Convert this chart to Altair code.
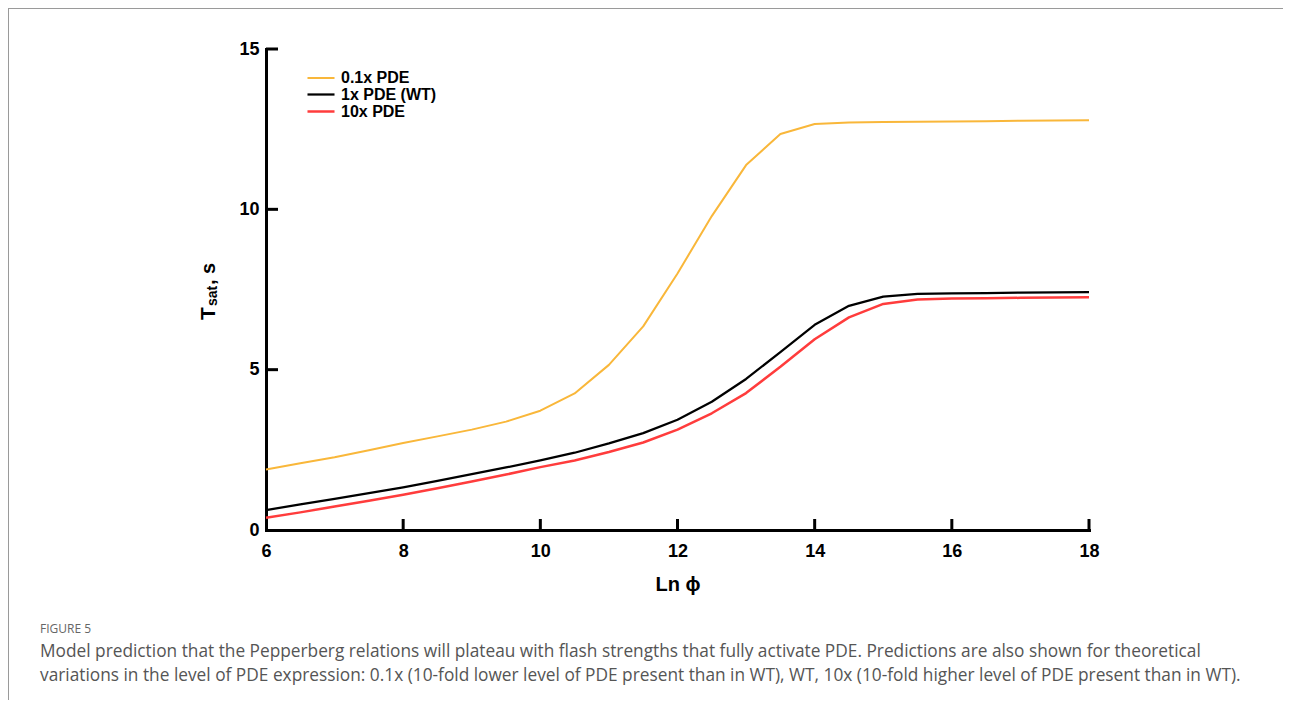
import altair as alt
import pandas as pd

# ---------------- data ----------------
x_vals = [6, 6.5, 7, 7.5, 8, 8.5, 9, 9.5, 10, 10.5, 11, 11.5, 12, 12.5, 13,
          13.5, 14, 14.5, 15, 15.5, 16, 16.5, 17, 17.5, 18]
pde_01x = [1.89, 2.08, 2.27, 2.49, 2.71, 2.92, 3.13, 3.38, 3.72, 4.26, 5.15, 6.35,
           8.00, 9.79, 11.38, 12.35, 12.66, 12.71, 12.72, 12.73, 12.74, 12.75,
           12.76, 12.77, 12.78]
pde_1x = [0.62, 0.80, 0.97, 1.15, 1.33, 1.53, 1.74, 1.95, 2.17, 2.41, 2.70, 3.02,
          3.44, 4.00, 4.71, 5.55, 6.40, 6.99, 7.28, 7.36, 7.38, 7.39, 7.40, 7.41, 7.42]
pde_10x = [0.38, 0.55, 0.73, 0.91, 1.10, 1.30, 1.51, 1.73, 1.96, 2.17, 2.43, 2.73,
           3.13, 3.64, 4.27, 5.09, 5.95, 6.63, 7.05, 7.19, 7.22, 7.23, 7.24, 7.25, 7.26]
series_names = ["0.1x PDE", "1x PDE (WT)", "10x PDE"]
series_colors = ["#F9B73A", "#000000", "#FF3C3C"]
series_widths = [2, 2.5, 4]
x_tick_values = [6, 8, 10, 12, 14, 16, 18]
x_inner_ticks = [8, 10, 12, 14, 16, 18]
y_tick_values = [0, 5, 10, 15]
y_inner_ticks = [5, 10, 15]
x_title = "Ln ϕ"
y_title_parts = ["T", "sat", ", s"]
caption_head = "FIGURE 5"
caption_lines = [
    "Model prediction that the Pepperberg relations will plateau with flash strengths that fully activate PDE. Predictions are also shown for theoretical",
    "variations in the level of PDE expression: 0.1x (10-fold lower level of PDE present than in WT), WT, 10x (10-fold higher level of PDE present than in WT).",
]

rows = []
for name, vals in zip(series_names, [pde_01x, pde_1x, pde_10x]):
    for x, y in zip(x_vals, vals):
        rows.append({"lnphi": x, "tsat": y, "series": name})
df = pd.DataFrame(rows)

FONT = "Liberation Sans, Arial, sans-serif"
CAP_FONT = "Open Sans, Lato, sans-serif"
W, H = 823, 481
PAD_L, PAD_T = 258, 41
TOTAL_W, TOTAL_H = 1275, 692

xs = alt.Scale(domain=[6, 18], nice=False, zero=False)
ys = alt.Scale(domain=[0, 15], nice=False)
x_axis = alt.Axis(values=x_tick_values, title=x_title, ticks=False, grid=False,
                  labelFlush=False, labelPadding=12, titlePadding=14, format="d")
y_axis = alt.Axis(values=y_tick_values, title=None, ticks=False, grid=False,
                  labelFlush=False, labelPadding=7, format="d")

legend = alt.Legend(
    title=None, orient="none", legendX=46.5, legendY=21,
    symbolType="M-1.93,0H1.93", symbolSize=196, labelFont=FONT, labelFontWeight="bold",
    labelFontSize=16, labelColor="black", labelOffset=11.5, rowPadding=0, padding=0,
)

lines = alt.Chart(df).mark_line(strokeJoin="round").encode(
    x=alt.X("lnphi:Q", scale=xs, axis=x_axis, title=x_title),
    y=alt.Y("tsat:Q", scale=ys, axis=y_axis, title=None),
    color=alt.Color("series:N", scale=alt.Scale(domain=series_names, range=series_colors),
                    legend=legend),
    strokeWidth=alt.StrokeWidth("series:N",
                                scale=alt.Scale(domain=series_names, range=series_widths),
                                legend=legend),
)

xticks = alt.Chart(pd.DataFrame({"v": x_inner_ticks})).mark_tick(
    orient="vertical", size=11, thickness=3, color="black", opacity=1, yOffset=-5.5
).encode(x=alt.X("v:Q", scale=xs, axis=x_axis, title=x_title),
         y=alt.Y(datum=0, scale=ys, axis=y_axis, title=None))

yticks = alt.Chart(pd.DataFrame({"v": y_inner_ticks})).mark_tick(
    orient="horizontal", size=12, thickness=3, color="black", opacity=1, xOffset=6
).encode(y=alt.Y("v:Q", scale=ys, axis=y_axis, title=None),
         x=alt.X(datum=6, scale=xs, axis=x_axis, title=x_title))

one = pd.DataFrame({"a": [0]})
yt1 = alt.Chart(one).mark_text(text=y_title_parts[0], angle=270, align="left",
                               baseline="alphabetic", font=FONT, fontWeight="bold",
                               fontSize=21, color="black").encode(
    x=alt.value(-51), y=alt.value(271))
yt2 = alt.Chart(one).mark_text(text=y_title_parts[1], angle=270, align="left",
                               baseline="alphabetic", font=FONT, fontWeight="bold",
                               fontSize=14, color="black").encode(
    x=alt.value(-49), y=alt.value(257))
yt3 = alt.Chart(one).mark_text(text=y_title_parts[2], angle=270, align="left",
                               baseline="alphabetic", font=FONT, fontWeight="bold",
                               fontSize=20, color="black").encode(
    x=alt.value(-51), y=alt.value(236))

cap_head = alt.Chart(one).mark_text(text=caption_head, align="left", baseline="alphabetic",
                                    font=CAP_FONT, fontSize=12, color="#666666").encode(
    x=alt.value(-226), y=alt.value(584))
cap_body = alt.Chart(one).mark_text(text=caption_lines, align="left", baseline="alphabetic",
                                    font=CAP_FONT, fontSize=17.3, lineHeight=24,
                                    color="#555555").encode(
    x=alt.value(-226), y=alt.value(608))

border_top = alt.Chart(one).mark_rule(color="#9a9a9a", strokeWidth=1).encode(
    x=alt.value(-PAD_L), x2=alt.value(TOTAL_W - PAD_L), y=alt.value(-PAD_T + 0.5))
border_left = alt.Chart(one).mark_rule(color="#9a9a9a", strokeWidth=1).encode(
    x=alt.value(-PAD_L + 0.5), y=alt.value(-PAD_T), y2=alt.value(TOTAL_H - PAD_T))

chart = alt.layer(
    lines, xticks, yticks, yt1, yt2, yt3, cap_head, cap_body, border_top, border_left
).properties(
    width=W, height=H,
    background="white",
    autosize=alt.AutoSizeParams(type="none"),
    padding={"left": PAD_L, "top": PAD_T, "right": TOTAL_W - PAD_L - W,
             "bottom": TOTAL_H - PAD_T - H},
).configure_view(strokeWidth=0, stroke="transparent").configure_axis(
    grid=False, domainColor="black", domainWidth=3, domainCap="square",
    labelFont=FONT, labelFontWeight="bold", labelFontSize=18, labelColor="black",
    titleFont=FONT, titleFontWeight="bold", titleFontSize=20, titleColor="black",
)

chart.save("out.html", embed_options={"renderer": "svg", "actions": False})
